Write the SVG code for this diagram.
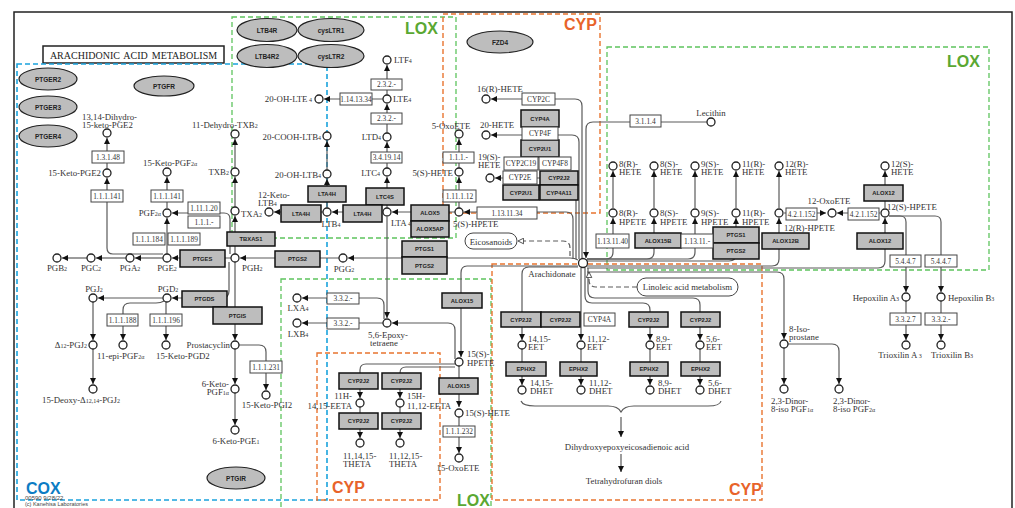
<svg xmlns="http://www.w3.org/2000/svg" width="1015" height="508" viewBox="0 0 1015 508">
<defs>
<marker id="ar" viewBox="0 0 8 8" refX="8" refY="4" markerWidth="6" markerHeight="6" orient="auto" markerUnits="userSpaceOnUse"><path d="M0,0 L8,4 L0,8 z" fill="#111"/></marker>
<marker id="ho" viewBox="0 0 10 10" refX="9" refY="5" markerWidth="7" markerHeight="7" orient="auto" markerUnits="userSpaceOnUse"><path d="M1,1 L9,5 L1,9 z" fill="#fff" stroke="#333" stroke-width="1.2"/></marker>
</defs>
<style>
.t{font-family:"Liberation Serif",serif;font-size:8.8px;fill:#333}
.s{font-size:6px}
.ec rect{fill:#fff;stroke:#444;stroke-width:1}
.ec text{font-family:"Liberation Serif",serif;font-size:7.4px;fill:#333;text-anchor:middle}
.en rect{fill:#bdbdbd;stroke:#111;stroke-width:1.5}
.en text{font-family:"Liberation Sans",sans-serif;font-weight:bold;font-size:5.8px;fill:#222;text-anchor:middle}
.el ellipse{fill:#bdbdbd;stroke:#222;stroke-width:1.2}
.el text{font-family:"Liberation Sans",sans-serif;font-weight:bold;font-size:6.5px;fill:#222;text-anchor:middle}
.c{fill:#fff;stroke:#222;stroke-width:1.3}
.ln path{fill:none;stroke:#5a5a5a;stroke-width:1.2;marker-end:url(#ar)}
.ln path.n{marker-end:none}
.ln path.h{stroke-dasharray:5,3;marker-end:url(#ho)}
.dg{fill:none;stroke:#5ec45e;stroke-width:1.3;stroke-dasharray:5,3}
.db{fill:none;stroke:#1aa3dd;stroke-width:1.6;stroke-dasharray:5,3}
.do{fill:none;stroke:#e8742f;stroke-width:1.4;stroke-dasharray:5,3}
.lbl{font-family:"Liberation Sans",sans-serif;font-weight:bold;font-size:16px}
.m{text-anchor:middle}
.e{text-anchor:end}
</style>
<rect width="1015" height="508" fill="#fff"/>
<rect x="14" y="12" width="998" height="510" fill="none" stroke="#222" stroke-width="1.5"/>
<g id="title"><rect x="43" y="46" width="181" height="17" fill="#fff" stroke="#222" stroke-width="1.5"/><text x="133.5" y="58.5" font-family="Liberation Serif, serif" font-size="10" word-spacing="1.5" text-anchor="middle" fill="#222">ARACHIDONIC ACID METABOLISM</text></g>

<g id="regions">
<rect class="db" x="17" y="64" width="310" height="436"/>
<rect class="dg" x="232" y="17" width="224" height="221"/>
<rect class="do" x="443" y="14" width="157" height="199"/>
<rect class="dg" x="607" y="47" width="382" height="223"/>
<rect class="dg" x="281" y="279" width="210" height="240"/>
<rect class="do" x="317" y="353" width="123" height="147"/>
<rect class="do" x="492" y="264" width="270" height="236"/>
<text class="lbl" x="26" y="494" fill="#0c7cc4" font-size="18">COX</text>
<text class="lbl" x="405" y="34" fill="#5aa832">LOX</text>
<text class="lbl" x="947" y="67" fill="#5aa832">LOX</text>
<text class="lbl" x="457" y="506" fill="#5aa832">LOX</text>
<text class="lbl" x="564" y="30" fill="#e8632a">CYP</text>
<text class="lbl" x="332" y="493" fill="#e8632a">CYP</text>
<text class="lbl" x="729" y="495" fill="#e8632a">CYP</text>
<text x="25" y="500" font-family="Liberation Sans, sans-serif" font-size="6" fill="#444">00590 9/28/22</text>
<text x="25" y="506" font-family="Liberation Sans, sans-serif" font-size="5.5" fill="#444">(c) Kanehisa Laboratories</text>
</g>

<g id="connectors" class="ln">
<path d="M107,169 V138"/>
<path d="M163,254 H113 Q107,254 107,248 V178"/>
<path d="M167,208 V177"/>
<path d="M167,254 V218"/>
<path d="M230,254 V219 Q230,213 224,213 H172"/>
<path d="M231,258 H172"/>
<path d="M163,258 H135"/>
<path d="M126,258 H96"/>
<path d="M87,258 H62"/>
<path d="M339,258 H240"/>
<path d="M235,254 V216"/>
<path d="M235,207 V177"/>
<path d="M235,168 V139"/>
<path d="M229,262 V291 Q229,298 222,298 H172"/>
<path d="M163,298 H98"/>
<path d="M93,302 V340"/>
<path d="M93,349 V384"/>
<path d="M164,301 Q161,303 156,303 H130 Q123,303 123,310 V340"/>
<path d="M166,302 V340"/>
<path d="M235,262 V340"/>
<path d="M235,349 V384"/>
<path d="M235,393 V425"/>
<path d="M239,345 H259 Q266,345 266,352 V390"/>
<path d="M387,95 V65"/>
<path d="M387,133 V104"/>
<path d="M387,168 V142"/>
<path d="M387,208 V177"/>
<path d="M383,99 H324"/>
<path d="M455,212 H392"/>
<path d="M383,212 H332"/>
<path d="M323,212 H274"/>
<path d="M327,208 V179"/>
<path d="M327,170 V141"/>
<path d="M459,208 V177"/>
<path d="M459,168 V139"/>
<path d="M387,217 V318"/>
<path d="M384,319 V305 Q384,298 377,298 H302"/>
<path d="M383,323 H302"/>
<path d="M455,359 V330 Q455,323 448,323 H392"/>
<path d="M459,366 V407"/>
<path d="M459,417 V453"/>
<path d="M455,364 H366 Q360,364 360,370 V398"/>
<path d="M455,367 H406 Q400,367 400,373 V398"/>
<path d="M360,407 V438"/>
<path d="M400,407 V438"/>
<path d="M578,260 Q575,258 570,258 H348"/>
<path d="M578,266 H467 Q461,266 461,273 V357"/>
<path d="M573,259 V219 Q573,212 566,212 H464"/>
<path d="M582,259 V106 Q582,99 575,99 H491"/>
<path d="M579,259 V142 Q579,135 572,135 H491"/>
<path d="M576,259 V185 Q576,178 569,178 H495"/>
<path d="M707,122 H593 Q586,122 586,129 V258"/>
<path class="h" d="M570,256 V248 Q570,241 563,241 H518"/>
<path d="M587,259 H606 Q613,259 613,252 V218"/>
<path d="M587,259 H647 Q654,259 654,252 V218"/>
<path d="M587,259 H688 Q695,259 695,252 V218"/>
<path d="M587,261 H729 Q736,261 736,254 V218"/>
<path d="M587,266 H772 Q779,266 779,259 V218"/>
<path d="M587,268 H878 Q885,268 885,261 V218"/>
<path d="M613,208 V171"/>
<path d="M654,208 V171"/>
<path d="M695,208 V171"/>
<path d="M736,208 V171"/>
<path d="M779,208 V171"/>
<path d="M885,208 V171"/>
<path d="M784,213 H826"/>
<path d="M880,213 H837"/>
<path d="M889,216 H900 Q906,216 906,222 V292"/>
<path d="M889,216 H935 Q941,216 941,222 V292"/>
<path d="M906,301 V340"/>
<path d="M941,301 V340"/>
<path d="M587,272 H777 Q784,272 784,279 V339"/>
<path d="M784,348 V384"/>
<path d="M788,344 H832 Q839,344 839,351 V384"/>
<path d="M578,267 H529 Q522,267 522,274 V340"/>
<path d="M581,268 V340"/>
<path d="M585,268 V296 Q585,303 592,303 H643 Q650,303 650,310 V340"/>
<path d="M588,268 V291 Q588,298 595,298 H693 Q700,298 700,305 V340"/>
<path d="M522,349 V385"/>
<path d="M581,349 V385"/>
<path d="M650,349 V385"/>
<path d="M700,349 V385"/>
<path class="h" d="M637,287 H596 Q589,287 589,280 V272"/>
<path class="n" d="M521,401 Q523,406 535,406 H608 Q618,406 621,412 Q624,406 634,406 H708 Q720,406 721,401" stroke="#777"/>
<path d="M621,417 V437"/>
<path d="M621,454 V472"/>
</g>

<!-- receptors -->
<g id="ptger2" class="el"><ellipse cx="48" cy="79" rx="29" ry="11"/><text x="48" y="81.5">PTGER2</text></g>
<g id="ptger3" class="el"><ellipse cx="48" cy="107" rx="29" ry="11"/><text x="48" y="109.5">PTGER3</text></g>
<g id="ptger4" class="el"><ellipse cx="48" cy="136" rx="29" ry="11"/><text x="48" y="138.5">PTGER4</text></g>
<g id="ptgfr" class="el"><ellipse cx="164" cy="86" rx="30" ry="10"/><text x="164" y="88.5">PTGFR</text></g>
<g id="ltb4r" class="el"><ellipse cx="267" cy="30" rx="30" ry="11.5"/><text x="267" y="32.5">LTB4R</text></g>
<g id="cysltr1" class="el"><ellipse cx="331" cy="30" rx="33" ry="11.5"/><text x="331" y="32.5">cysLTR1</text></g>
<g id="ltb4r2" class="el"><ellipse cx="267" cy="56" rx="30" ry="11.5"/><text x="267" y="58.5">LTB4R2</text></g>
<g id="cysltr2" class="el"><ellipse cx="331" cy="56" rx="33" ry="11.5"/><text x="331" y="58.5">cysLTR2</text></g>
<g id="fzd4" class="el"><ellipse cx="500" cy="42" rx="33" ry="11"/><text x="500" y="44.5">FZD4</text></g>
<g id="ptgir" class="el"><ellipse cx="236" cy="478" rx="29" ry="11"/><text x="236" y="480.5">PTGIR</text></g>

<!-- enzymes -->
<g id="tbxas1" class="en"><rect x="227" y="232" width="48" height="14"/><text x="251" y="241">TBXAS1</text></g>
<g id="ptges" class="en"><rect x="180" y="250" width="45" height="17"/><text x="202.5" y="260.5">PTGES</text></g>
<g id="ptgds" class="en"><rect x="182" y="291" width="45" height="16"/><text x="204.5" y="301">PTGDS</text></g>
<g id="ptgis" class="en"><rect x="213" y="307" width="49" height="17"/><text x="237.5" y="317.5">PTGIS</text></g>
<g id="ptgs2a" class="en"><rect x="275" y="251" width="45" height="16"/><text x="297.5" y="261">PTGS2</text></g>
<g id="ptgs1b" class="en"><rect x="402" y="241" width="45" height="16"/><text x="424.5" y="251">PTGS1</text></g>
<g id="ptgs2b" class="en"><rect x="402" y="257" width="45" height="17"/><text x="424.5" y="267.5">PTGS2</text></g>
<g id="lta4h1" class="en"><rect x="308" y="186" width="38" height="16"/><text x="327" y="196">LTA4H</text></g>
<g id="ltc4s" class="en"><rect x="366" y="188" width="38" height="17"/><text x="385" y="198.5">LTC4S</text></g>
<g id="lta4h2" class="en"><rect x="281" y="205" width="40" height="17"/><text x="301" y="215.5">LTA4H</text></g>
<g id="lta4h3" class="en"><rect x="343" y="205" width="39" height="17"/><text x="362.5" y="215.5">LTA4H</text></g>
<g id="alox5" class="en"><rect x="411" y="205" width="38" height="16"/><text x="430" y="215">ALOX5</text></g>
<g id="alox5ap" class="en"><rect x="411" y="221" width="38" height="16"/><text x="430" y="231">ALOX5AP</text></g>
<g id="alox15a" class="en"><rect x="442" y="293" width="40" height="15"/><text x="462" y="302.5">ALOX15</text></g>
<g id="alox15b" class="en"><rect x="439" y="378" width="39" height="16"/><text x="458.5" y="388">ALOX15</text></g>
<g id="cyp2j2a" class="en"><rect x="339" y="373" width="39" height="16"/><text x="358.5" y="383">CYP2J2</text></g>
<g id="cyp2j2b" class="en"><rect x="382" y="373" width="39" height="16"/><text x="401.5" y="383">CYP2J2</text></g>
<g id="cyp2j2c" class="en"><rect x="339" y="413" width="39" height="16"/><text x="358.5" y="423">CYP2J2</text></g>
<g id="cyp2j2d" class="en"><rect x="382" y="413" width="39" height="16"/><text x="401.5" y="423">CYP2J2</text></g>
<g id="cyp4a" class="en"><rect x="521" y="110" width="38" height="17"/><text x="540" y="120.5">CYP4A</text></g>
<g id="cyp2u1a" class="en"><rect x="521" y="140" width="38" height="17"/><text x="540" y="150.5">CYP2U1</text></g>
<g id="cyp2j2e" class="en"><rect x="540" y="171" width="38" height="14"/><text x="559" y="180">CYP2J2</text></g>
<g id="cyp2u1b" class="en"><rect x="503" y="185" width="36" height="15"/><text x="521" y="194.5">CYP2U1</text></g>
<g id="cyp4a11" class="en"><rect x="540" y="185" width="38" height="15"/><text x="559" y="194.5">CYP4A11</text></g>
<g id="alox15bb" class="en"><rect x="635" y="233" width="46" height="15"/><text x="658" y="242.5">ALOX15B</text></g>
<g id="ptgs1c" class="en"><rect x="713" y="227" width="46" height="16"/><text x="736" y="237">PTGS1</text></g>
<g id="ptgs2c" class="en"><rect x="713" y="243" width="46" height="16"/><text x="736" y="253">PTGS2</text></g>
<g id="alox12b" class="en"><rect x="762" y="233" width="47" height="16"/><text x="785.5" y="243">ALOX12B</text></g>
<g id="alox12a" class="en"><rect x="864" y="185" width="39" height="16"/><text x="883.5" y="195">ALOX12</text></g>
<g id="alox12b2" class="en"><rect x="857" y="233" width="46" height="16"/><text x="880" y="243">ALOX12</text></g>
<g id="cyp2j2f" class="en"><rect x="501" y="312" width="40" height="15"/><text x="521" y="321.5">CYP2J2</text></g>
<g id="cyp2j2g" class="en"><rect x="541" y="312" width="39" height="15"/><text x="560.5" y="321.5">CYP2J2</text></g>
<g id="cyp2j2h" class="en"><rect x="629" y="312" width="39" height="15"/><text x="648.5" y="321.5">CYP2J2</text></g>
<g id="cyp2j2i" class="en"><rect x="681" y="312" width="39" height="15"/><text x="700.5" y="321.5">CYP2J2</text></g>
<g id="ephx2a" class="en"><rect x="506" y="362" width="40" height="14"/><text x="526" y="371">EPHX2</text></g>
<g id="ephx2b" class="en"><rect x="560" y="362" width="37" height="14"/><text x="578.5" y="371">EPHX2</text></g>
<g id="ephx2c" class="en"><rect x="630" y="362" width="38" height="14"/><text x="649" y="371">EPHX2</text></g>
<g id="ephx2d" class="en"><rect x="681" y="362" width="39" height="14"/><text x="700.5" y="371">EPHX2</text></g>

<!-- EC / white boxes -->
<g id="ec131148" class="ec"><rect x="92" y="151" width="32" height="12"/><text x="108" y="159.5">1.3.1.48</text></g>
<g id="ec1111a" class="ec"><rect x="91" y="190" width="32" height="12"/><text x="107" y="198.5">1.1.1.141</text></g>
<g id="ec1111b" class="ec"><rect x="151" y="190" width="32" height="12"/><text x="167" y="198.5">1.1.1.141</text></g>
<g id="ec111120" class="ec"><rect x="188" y="202" width="32" height="12"/><text x="204" y="210.5">1.11.1.20</text></g>
<g id="ec111x" class="ec"><rect x="188" y="216" width="32" height="12"/><text x="204" y="224.5">1.1.1.-</text></g>
<g id="ec111184" class="ec"><rect x="133" y="233" width="32" height="12"/><text x="149" y="241.5">1.1.1.184</text></g>
<g id="ec111189" class="ec"><rect x="168" y="233" width="32" height="12"/><text x="184" y="241.5">1.1.1.189</text></g>
<g id="ec111188" class="ec"><rect x="107" y="314" width="31" height="12"/><text x="122.5" y="322.5">1.1.1.188</text></g>
<g id="ec111196" class="ec"><rect x="150" y="314" width="32" height="12"/><text x="166" y="322.5">1.1.1.196</text></g>
<g id="ec111231" class="ec"><rect x="250" y="361" width="32" height="12"/><text x="266" y="369.5">1.1.1.231</text></g>
<g id="ec232a" class="ec"><rect x="371" y="79" width="31" height="11"/><text x="386.5" y="87">2.3.2.-</text></g>
<g id="ec1141334" class="ec"><rect x="340" y="93" width="32" height="12"/><text x="356" y="101.5">1.14.13.34</text></g>
<g id="ec232b" class="ec"><rect x="371" y="113" width="31" height="11"/><text x="386.5" y="121">2.3.2.-</text></g>
<g id="ec341914" class="ec"><rect x="371" y="152" width="31" height="11"/><text x="386.5" y="160">3.4.19.14</text></g>
<g id="ec111y" class="ec"><rect x="443" y="152" width="31" height="11"/><text x="458.5" y="160">1.1.1.-</text></g>
<g id="ec111112" class="ec"><rect x="443" y="190" width="33" height="12"/><text x="459.5" y="198.5">1.11.1.12</text></g>
<g id="ec332a" class="ec"><rect x="327" y="293" width="32" height="11"/><text x="343" y="301">3.3.2.-</text></g>
<g id="ec332b" class="ec"><rect x="327" y="318" width="32" height="11"/><text x="343" y="326">3.3.2.-</text></g>
<g id="ec111232" class="ec"><rect x="443" y="426" width="32" height="11"/><text x="459" y="434">1.1.1.232</text></g>
<g id="cyp2c" class="ec"><rect x="522" y="93" width="33" height="12"/><text x="538.5" y="101.5">CYP2C</text></g>
<g id="cyp4f" class="ec"><rect x="522" y="127" width="36" height="13"/><text x="540" y="136">CYP4F</text></g>
<g id="cyp2c19" class="ec"><rect x="504" y="157" width="34" height="13"/><text x="521" y="166">CYP2C19</text></g>
<g id="cyp4f8" class="ec"><rect x="539" y="157" width="32" height="13"/><text x="555" y="166">CYP4F8</text></g>
<g id="cyp2e" class="ec"><rect x="503" y="171" width="34" height="13"/><text x="520" y="180">CYP2E</text></g>
<g id="ec1131134" class="ec"><rect x="477" y="207" width="60" height="12"/><text x="507" y="215.5" font-size="8.5">1.13.11.34</text></g>
<g id="ec3114" class="ec"><rect x="630" y="115" width="31" height="12"/><text x="645.5" y="123.5">3.1.1.4</text></g>
<g id="ec1131140" class="ec"><rect x="596" y="234" width="33" height="14"/><text x="612.5" y="243.5">1.13.11.40</text></g>
<g id="ec11311x" class="ec"><rect x="681" y="234" width="32" height="14"/><text x="697" y="243.5">1.13.11.-</text></g>
<g id="ec421152a" class="ec"><rect x="786" y="208" width="31" height="12"/><text x="801.5" y="216.5">4.2.1.152</text></g>
<g id="ec421152b" class="ec"><rect x="848" y="208" width="31" height="12"/><text x="863.5" y="216.5">4.2.1.152</text></g>
<g id="ec5447a" class="ec"><rect x="890" y="255" width="31" height="12"/><text x="905.5" y="263.5">5.4.4.7</text></g>
<g id="ec5447b" class="ec"><rect x="925" y="255" width="32" height="12"/><text x="941" y="263.5">5.4.4.7</text></g>
<g id="ec3327" class="ec"><rect x="890" y="313" width="31" height="12"/><text x="905.5" y="321.5">3.3.2.7</text></g>
<g id="ec332c" class="ec"><rect x="925" y="313" width="32" height="12"/><text x="941" y="321.5">3.3.2.-</text></g>
<g id="cyp4a2" class="ec"><rect x="584" y="313" width="31" height="13"/><text x="599.5" y="322">CYP4A</text></g>

<!-- maps -->
<g id="eicosanoids"><rect x="465" y="233" width="52" height="16" rx="8" fill="#fff" stroke="#444"/><text class="t m" x="491" y="244.5">Eicosanoids</text></g>
<g id="linoleic"><rect x="637" y="278" width="101" height="18" rx="9" fill="#fff" stroke="#444"/><text class="t m" x="687.5" y="290">Linoleic acid metabolism</text></g>

<!-- compounds COX -->
<g id="n-dhkpge2"><circle class="c" cx="107" cy="133" r="4"/><text class="t" x="82" y="120">13,14-Dihydro-</text><text class="t" x="82" y="128">15-keto-PGE2</text></g>
<g id="n-kpge2"><circle class="c" cx="107" cy="173" r="4"/><text class="t e" x="101" y="176">15-Keto-PGE2</text></g>
<g id="n-kpgf2a"><circle class="c" cx="167" cy="172" r="4"/><text class="t" x="143" y="166">15-Keto-PGF<tspan class="s">2α</tspan></text></g>
<g id="n-pgf2a"><circle class="c" cx="167" cy="213" r="4"/><text class="t e" x="161" y="216">PGF<tspan class="s">2α</tspan></text></g>
<g id="n-pge2"><circle class="c" cx="167" cy="258" r="4"/><text class="t m" x="167" y="271">PGE<tspan class="s">2</tspan></text></g>
<g id="n-pga2"><circle class="c" cx="130" cy="258" r="4"/><text class="t m" x="130" y="271">PGA<tspan class="s">2</tspan></text></g>
<g id="n-pgc2"><circle class="c" cx="91" cy="258" r="4"/><text class="t m" x="91" y="271">PGC<tspan class="s">2</tspan></text></g>
<g id="n-pgb2"><circle class="c" cx="57" cy="258" r="4"/><text class="t m" x="57" y="271">PGB<tspan class="s">2</tspan></text></g>
<g id="n-pgh2"><circle class="c" cx="235" cy="258" r="4"/><text class="t" x="242" y="271">PGH<tspan class="s">2</tspan></text></g>
<g id="n-txa2"><circle class="c" cx="235" cy="211" r="4"/><text class="t" x="241" y="217">TXA<tspan class="s">2</tspan></text></g>
<g id="n-txb2"><circle class="c" cx="235" cy="172" r="4"/><text class="t e" x="229" y="175">TXB<tspan class="s">2</tspan></text></g>
<g id="n-dhtxb2"><circle class="c" cx="235" cy="134" r="4"/><text class="t" x="192" y="128">11-Dehydro-TXB<tspan class="s">2</tspan></text></g>
<g id="n-pgd2"><circle class="c" cx="167" cy="298" r="4"/><text class="t m" x="168" y="292">PGD<tspan class="s">2</tspan></text></g>
<g id="n-pgj2"><circle class="c" cx="93" cy="298" r="4"/><text class="t m" x="94" y="292">PGJ<tspan class="s">2</tspan></text></g>
<g id="n-d12pgj2"><circle class="c" cx="93" cy="345" r="4"/><text class="t e" x="87" y="348">Δ<tspan class="s">12</tspan>-PGJ<tspan class="s">2</tspan></text></g>
<g id="n-epipgf2a"><circle class="c" cx="123" cy="345" r="4"/><text class="t" x="97" y="359">11-epi-PGF<tspan class="s">2α</tspan></text></g>
<g id="n-kpgd2"><circle class="c" cx="166" cy="345" r="4"/><text class="t" x="156" y="359">15-Keto-PGD2</text></g>
<g id="n-dpgj2"><circle class="c" cx="93" cy="389" r="4"/><text class="t" x="42" y="403">15-Deoxy-Δ<tspan class="s">12,14</tspan>-PGJ<tspan class="s">2</tspan></text></g>
<g id="n-pgi2"><circle class="c" cx="235" cy="345" r="4"/><text class="t e" x="230" y="348">Prostacyclin</text></g>
<g id="n-kpgf1a"><circle class="c" cx="235" cy="389" r="4"/><text class="t e" x="229" y="387">6-Keto-</text><text class="t e" x="229" y="395">PGF<tspan class="s">1α</tspan></text></g>
<g id="n-kpge1"><circle class="c" cx="235" cy="430" r="4"/><text class="t m" x="236" y="444">6-Keto-PGE<tspan class="s">1</tspan></text></g>
<g id="n-kpgi2"><circle class="c" cx="266" cy="395" r="4"/><text class="t m" x="267" y="408">15-Keto-PGI2</text></g>

<!-- compounds LOX -->
<g id="n-ltf4"><circle class="c" cx="387" cy="60" r="4"/><text class="t" x="394" y="63">LTF<tspan class="s">4</tspan></text></g>
<g id="n-lte4"><circle class="c" cx="387" cy="99" r="4"/><text class="t" x="393" y="102">LTE<tspan class="s">4</tspan></text></g>
<g id="n-ohlte4"><circle class="c" cx="319" cy="99" r="4"/><text class="t e" x="312" y="102">20-OH-LTE<tspan class="s"> 4</tspan></text></g>
<g id="n-ltd4"><circle class="c" cx="387" cy="137" r="4"/><text class="t e" x="381" y="140">LTD<tspan class="s">4</tspan></text></g>
<g id="n-ltc4"><circle class="c" cx="387" cy="172" r="4"/><text class="t e" x="380" y="176">LTC<tspan class="s">4</tspan></text></g>
<g id="n-lta4"><circle class="c" cx="387" cy="212" r="4"/><text class="t" x="391" y="226">LTA<tspan class="s"> 4</tspan></text></g>
<g id="n-ltb4"><circle class="c" cx="327" cy="212" r="4"/><text class="t m" x="331" y="227">LTB<tspan class="s">4</tspan></text></g>
<g id="n-kltb4"><circle class="c" cx="269" cy="212" r="4"/><text class="t" x="258" y="198">12-Keto-</text><text class="t" x="258" y="206">LTB<tspan class="s">4</tspan></text></g>
<g id="n-ohltb4"><circle class="c" cx="327" cy="174" r="4"/><text class="t e" x="321" y="178">20-OH-LTB<tspan class="s">4</tspan></text></g>
<g id="n-coohltb4"><circle class="c" cx="327" cy="136" r="4"/><text class="t e" x="321" y="140">20-COOH-LTB<tspan class="s">4</tspan></text></g>
<g id="n-5oxoete"><circle class="c" cx="459" cy="134" r="4"/><text class="t m" x="451" y="129">5-OxoETE</text></g>
<g id="n-5hete"><circle class="c" cx="459" cy="172" r="4"/><text class="t e" x="453" y="176">5(S)-HETE</text></g>
<g id="n-5hpete"><circle class="c" cx="459" cy="212" r="4"/><text class="t" x="453" y="227">5(S)-HPETE</text></g>
<g id="n-pgg2"><circle class="c" cx="343" cy="258" r="4"/><text class="t m" x="344" y="272">PGG<tspan class="s">2</tspan></text></g>
<g id="n-lxa4"><circle class="c" cx="297" cy="298" r="4"/><text class="t m" x="298" y="311">LXA<tspan class="s">4</tspan></text></g>
<g id="n-lxb4"><circle class="c" cx="297" cy="323" r="4"/><text class="t m" x="298" y="337">LXB<tspan class="s">4</tspan></text></g>
<g id="n-epoxy"><circle class="c" cx="387" cy="323" r="4"/><text class="t m" x="388" y="338">5,6-Epoxy-</text><text class="t m" x="384" y="346">tetraene</text></g>
<g id="n-15hpete"><circle class="c" cx="459" cy="362" r="4"/><text class="t" x="467" y="357">15(S)-</text><text class="t" x="467" y="366">HPETE</text></g>
<g id="n-15hete"><circle class="c" cx="459" cy="413" r="4"/><text class="t" x="465" y="416">15(S)-HETE</text></g>
<g id="n-15oxoete"><circle class="c" cx="459" cy="458" r="4"/><text class="t m" x="458" y="471">15-OxoETE</text></g>
<g id="n-eeta1415"><circle class="c" cx="360" cy="403" r="4"/><text class="t e" x="352" y="399">11H-</text><text class="t e" x="352" y="409">14,15-EETA</text></g>
<g id="n-eeta1112"><circle class="c" cx="400" cy="403" r="4"/><text class="t" x="407" y="399">15H-</text><text class="t" x="407" y="409">11,12-EETA</text></g>
<g id="n-theta1"><circle class="c" cx="360" cy="443" r="4"/><text class="t" x="343" y="459">11,14,15-</text><text class="t" x="343" y="467">THETA</text></g>
<g id="n-theta2"><circle class="c" cx="400" cy="443" r="4"/><text class="t" x="389" y="459">11,12,15-</text><text class="t" x="389" y="467">THETA</text></g>

<!-- compounds CYP top -->
<g id="n-16hete"><circle class="c" cx="486" cy="99" r="4"/><text class="t" x="477" y="92">16(R)-HETE</text></g>
<g id="n-20hete"><circle class="c" cx="486" cy="135" r="4"/><text class="t" x="480" y="128">20-HETE</text></g>
<g id="n-19hete"><circle class="c" cx="490" cy="178" r="4"/><text class="t" x="478" y="160">19(S)-</text><text class="t" x="478" y="168">HETE</text></g>

<!-- arachidonate and right side -->
<g id="n-lecithin"><circle class="c" cx="711" cy="122" r="4"/><text class="t m" x="711" y="116">Lecithin</text></g>
<g id="n-arach"><circle class="c" cx="583" cy="263" r="4.5" stroke="#b5542a"/><text class="t m" x="552" y="277">Arachidonate</text></g>
<g id="n-8rhete"><circle class="c" cx="613" cy="166" r="4"/><text class="t" x="619" y="167">8(R)-</text><text class="t" x="619" y="175">HETE</text></g>
<g id="n-8shete"><circle class="c" cx="654" cy="166" r="4"/><text class="t" x="660" y="167">8(S)-</text><text class="t" x="660" y="175">HETE</text></g>
<g id="n-9shete"><circle class="c" cx="695" cy="166" r="4"/><text class="t" x="701" y="167">9(S)-</text><text class="t" x="701" y="175">HETE</text></g>
<g id="n-11rhete"><circle class="c" cx="736" cy="166" r="4"/><text class="t" x="742" y="167">11(R)-</text><text class="t" x="742" y="175">HETE</text></g>
<g id="n-12rhete"><circle class="c" cx="779" cy="166" r="4"/><text class="t" x="785" y="167">12(R)-</text><text class="t" x="785" y="175">HETE</text></g>
<g id="n-12shete"><circle class="c" cx="885" cy="166" r="4"/><text class="t" x="891" y="167">12(S)-</text><text class="t" x="891" y="175">HETE</text></g>
<g id="n-8rhpete"><circle class="c" cx="613" cy="213" r="4"/><text class="t" x="619" y="216">8(R)-</text><text class="t" x="619" y="225">HPETE</text></g>
<g id="n-8shpete"><circle class="c" cx="654" cy="213" r="4"/><text class="t" x="660" y="216">8(S)-</text><text class="t" x="660" y="225">HPETE</text></g>
<g id="n-9shpete"><circle class="c" cx="695" cy="213" r="4"/><text class="t" x="701" y="216">9(S)-</text><text class="t" x="701" y="225">HPETE</text></g>
<g id="n-11rhpete"><circle class="c" cx="736" cy="213" r="4"/><text class="t" x="742" y="216">11(R)-</text><text class="t" x="742" y="225">HPETE</text></g>
<g id="n-12rhpete"><circle class="c" cx="779" cy="213" r="4"/><text class="t" x="784" y="231">12(R)-HPETE</text></g>
<g id="n-12shpete"><circle class="c" cx="885" cy="213" r="4"/><text class="t" x="887" y="210">12(S)-HPETE</text></g>
<g id="n-12oxoete"><circle class="c" cx="832" cy="213" r="4"/><text class="t m" x="829" y="204">12-OxoETE</text></g>
<g id="n-hxa3"><circle class="c" cx="906" cy="297" r="4"/><text class="t e" x="899" y="301">Hepoxilin A<tspan class="s">3</tspan></text></g>
<g id="n-hxb3"><circle class="c" cx="941" cy="297" r="4"/><text class="t" x="948" y="301">Hepoxilin B<tspan class="s">3</tspan></text></g>
<g id="n-txa3"><circle class="c" cx="906" cy="345" r="4"/><text class="t m" x="900" y="358">Trioxilin A<tspan class="s"> 3</tspan></text></g>
<g id="n-txb3"><circle class="c" cx="941" cy="345" r="4"/><text class="t m" x="952" y="358">Trioxilin B<tspan class="s">3</tspan></text></g>
<g id="n-isoprostane"><circle class="c" cx="784" cy="344" r="4"/><text class="t" x="789" y="332">8-Iso-</text><text class="t" x="789" y="340">prostane</text></g>
<g id="n-dinor1"><circle class="c" cx="784" cy="389" r="4"/><text class="t" x="771" y="404">2,3-Dinor-</text><text class="t" x="771" y="412">8-iso PGF<tspan class="s">1α</tspan></text></g>
<g id="n-dinor2"><circle class="c" cx="839" cy="389" r="4"/><text class="t" x="833" y="404">2,3-Dinor-</text><text class="t" x="833" y="412">8-iso PGF<tspan class="s">2α</tspan></text></g>

<!-- EETs -->
<g id="n-1415eet"><circle class="c" cx="522" cy="345" r="4"/><text class="t" x="528" y="342">14,15-</text><text class="t" x="528" y="350">EET</text></g>
<g id="n-1112eet"><circle class="c" cx="581" cy="345" r="4"/><text class="t" x="587" y="342">11,12-</text><text class="t" x="587" y="350">EET</text></g>
<g id="n-89eet"><circle class="c" cx="650" cy="345" r="4"/><text class="t" x="656" y="342">8,9-</text><text class="t" x="656" y="350">EET</text></g>
<g id="n-56eet"><circle class="c" cx="700" cy="345" r="4"/><text class="t" x="706" y="342">5,6-</text><text class="t" x="706" y="350">EET</text></g>
<g id="n-1415dhet"><circle class="c" cx="522" cy="390" r="4"/><text class="t" x="530" y="386">14,15-</text><text class="t" x="530" y="394">DHET</text></g>
<g id="n-1112dhet"><circle class="c" cx="581" cy="390" r="4"/><text class="t" x="589" y="386">11,12-</text><text class="t" x="589" y="394">DHET</text></g>
<g id="n-89dhet"><circle class="c" cx="650" cy="390" r="4"/><text class="t" x="658" y="386">8,9-</text><text class="t" x="658" y="394">DHET</text></g>
<g id="n-56dhet"><circle class="c" cx="700" cy="390" r="4"/><text class="t" x="708" y="386">5,6-</text><text class="t" x="708" y="394">DHET</text></g>
<g id="n-dhed"><text class="t m" x="627" y="450" font-size="7.5">Dihydroxyepoxyeicosadienoic acid</text></g>
<g id="n-thfd"><text class="t m" x="624" y="484" font-size="7.5">Tetrahydrofuran diols</text></g>
</svg>
